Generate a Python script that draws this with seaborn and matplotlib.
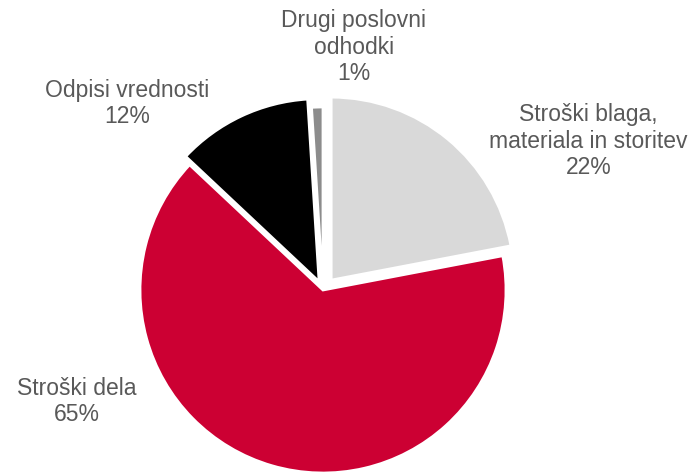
import matplotlib
matplotlib.use('Agg')
import matplotlib.pyplot as plt
import seaborn as sns

# cost structure shares (%)
labels = ['Stroški blaga,\nmateriala in storitev', 'Stroški dela',
          'Odpisi vrednosti', 'Drugi poslovni\nodhodki']
shares = [22, 65, 12, 1]
colors = ['#D9D9D9', '#CC0033', '#000000', '#8C8C8C']
explode = [0.07, 0.0, 0.05, 0.0]

# label anchor points as figure fractions (x, y from bottom)
label_pos = [(0.847, 0.701), (0.110, 0.149), (0.183, 0.781), (0.509, 0.900)]

sns.set_theme(style='white')
plt.rcParams['font.family'] = ['Liberation Sans', 'DejaVu Sans']

fig = plt.figure(figsize=(6.95, 4.72), dpi=100)
ax = fig.add_axes([0, 0, 1, 1])

ax.pie(shares, colors=colors, explode=explode, startangle=90,
       counterclock=False, radius=1.0,
       wedgeprops=dict(edgecolor='white', linewidth=2))

# 1 unit = 183 px, pie centre at (323, 290) px from top-left
px = 183.0
ax.set_xlim(-323 / px, (695 - 323) / px)
ax.set_ylim(-(472 - 290) / px, 290 / px)
ax.set_aspect('auto')
ax.axis('off')

for lab, val, (x, y) in zip(labels, shares, label_pos):
    fig.text(x, y, f'{lab}\n{val}%', ha='center', va='center',
             fontsize=16.5, color='#595959', linespacing=1.2)

fig.savefig('out.png', dpi=100)
